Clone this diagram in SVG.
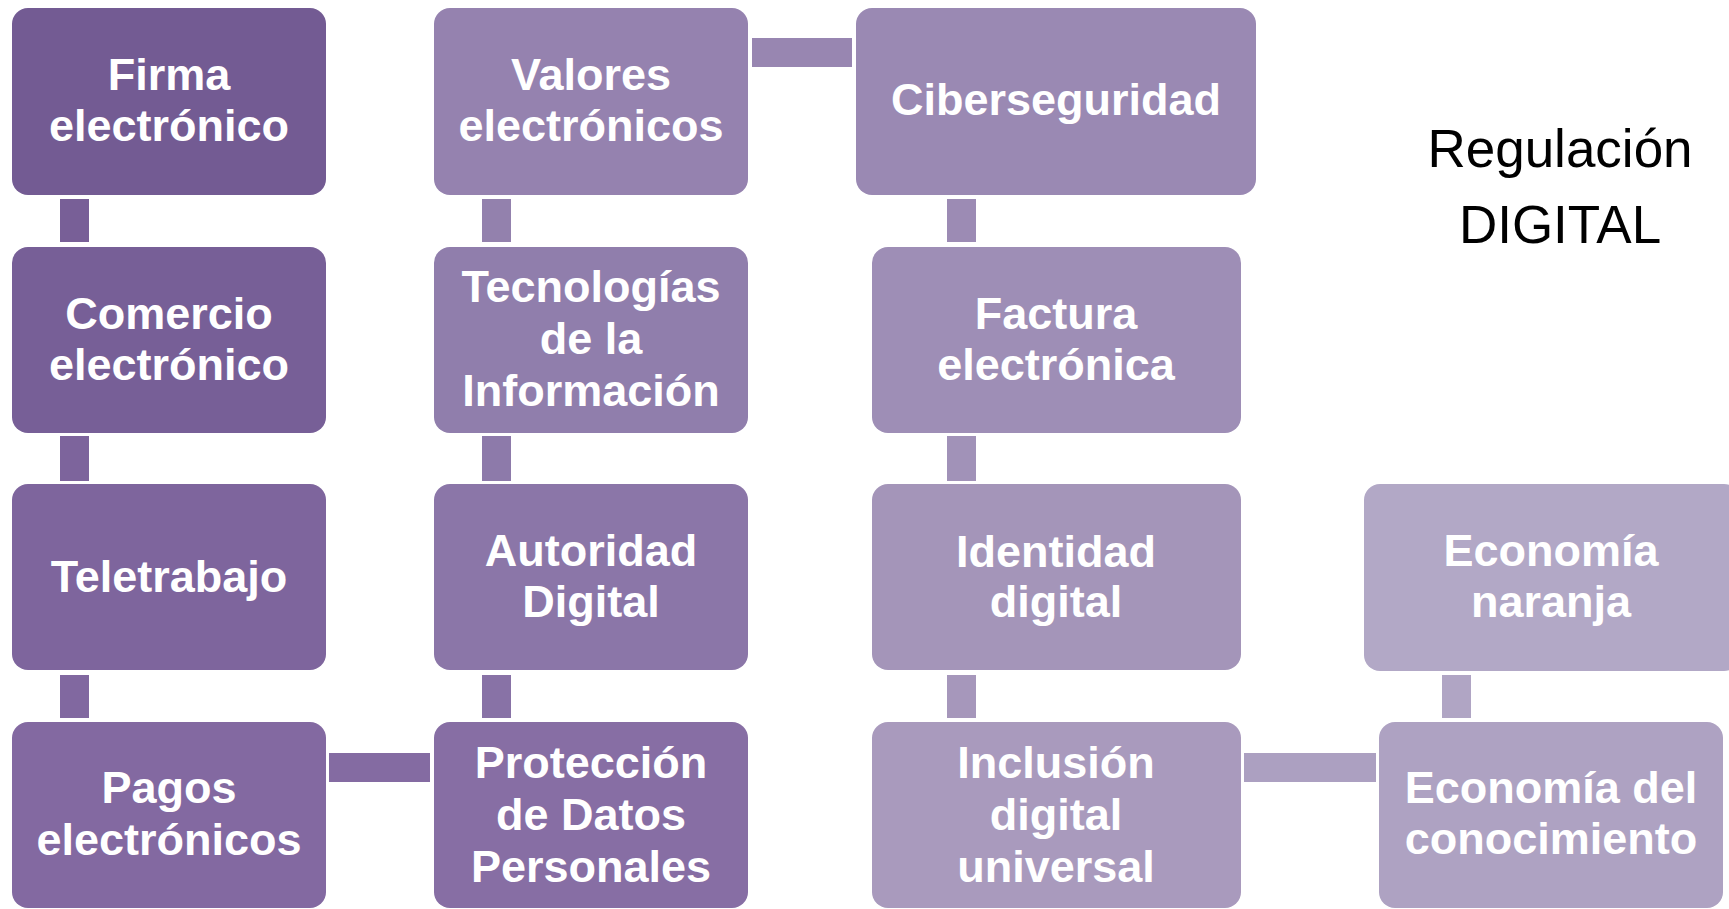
<svg xmlns="http://www.w3.org/2000/svg" width="1729" height="909" viewBox="0 0 1729 909">
<style>
.box{stroke:none}
.lbl{font-family:"Liberation Sans",Arial,sans-serif;font-weight:bold;font-size:45px;fill:#ffffff;text-anchor:middle}
.title{font-family:"Liberation Sans",Arial,sans-serif;font-size:53px;fill:#000000;text-anchor:middle}
</style>
<rect width="1729" height="909" fill="#ffffff"/>
<g id="connectors">
<rect x="60" y="199" width="29" height="43" fill="#785F97"/>
<rect x="60" y="436" width="29" height="45" fill="#7D649C"/>
<rect x="60" y="675" width="29" height="43" fill="#8168A0"/>
<rect x="329" y="753" width="101" height="29" fill="#846BA2"/>
<rect x="482" y="199" width="29" height="43" fill="#9381AD"/>
<rect x="482" y="436" width="29" height="45" fill="#8D7AAA"/>
<rect x="482" y="675" width="29" height="43" fill="#8872A6"/>
<rect x="752" y="38" width="100" height="29" fill="#9886B1"/>
<rect x="947" y="199" width="29" height="43" fill="#9C8BB4"/>
<rect x="947" y="436" width="29" height="45" fill="#A192B8"/>
<rect x="947" y="675" width="29" height="43" fill="#A697BB"/>
<rect x="1244" y="753" width="132" height="29" fill="#ACA0C1"/>
<rect x="1442" y="675" width="29" height="43" fill="#B0A5C4"/>
</g>
<g id="firma"><rect class="box" x="12" y="8" width="314" height="187" rx="16" fill="#735B93"/><text class="lbl" x="169" y="90">Firma</text><text class="lbl" x="169" y="141">electrónico</text></g>
<g id="comercio"><rect class="box" x="12" y="247" width="314" height="186" rx="16" fill="#775F97"/><text class="lbl" x="169" y="329">Comercio</text><text class="lbl" x="169" y="380">electrónico</text></g>
<g id="teletrabajo"><rect class="box" x="12" y="484" width="314" height="186" rx="16" fill="#7E659D"/><text class="lbl" x="169" y="592">Teletrabajo</text></g>
<g id="pagos"><rect class="box" x="12" y="722" width="314" height="186" rx="16" fill="#8369A1"/><text class="lbl" x="169" y="803">Pagos</text><text class="lbl" x="169" y="855">electrónicos</text></g>
<g id="valores"><rect class="box" x="434" y="8" width="314" height="187" rx="16" fill="#9582AF"/><text class="lbl" x="591" y="90">Valores</text><text class="lbl" x="591" y="141">electrónicos</text></g>
<g id="tecnologias"><rect class="box" x="434" y="247" width="314" height="186" rx="16" fill="#907EAC"/><text class="lbl" x="591" y="302">Tecnologías</text><text class="lbl" x="591" y="354">de la</text><text class="lbl" x="591" y="406">Información</text></g>
<g id="autoridad"><rect class="box" x="434" y="484" width="314" height="186" rx="16" fill="#8B76A8"/><text class="lbl" x="591" y="566">Autoridad</text><text class="lbl" x="591" y="617">Digital</text></g>
<g id="proteccion"><rect class="box" x="434" y="722" width="314" height="186" rx="16" fill="#876EA4"/><text class="lbl" x="591" y="778">Protección</text><text class="lbl" x="591" y="830">de Datos</text><text class="lbl" x="591" y="882">Personales</text></g>
<g id="ciberseguridad"><rect class="box" x="856" y="8" width="400" height="187" rx="16" fill="#9A89B3"/><text class="lbl" x="1056" y="115">Ciberseguridad</text></g>
<g id="factura"><rect class="box" x="872" y="247" width="369" height="186" rx="16" fill="#9E8EB6"/><text class="lbl" x="1056" y="329">Factura</text><text class="lbl" x="1056" y="380">electrónica</text></g>
<g id="identidad"><rect class="box" x="872" y="484" width="369" height="186" rx="16" fill="#A495B9"/><text class="lbl" x="1056" y="567">Identidad</text><text class="lbl" x="1056" y="617">digital</text></g>
<g id="inclusion"><rect class="box" x="872" y="722" width="369" height="186" rx="16" fill="#A99ABD"/><text class="lbl" x="1056" y="778">Inclusión</text><text class="lbl" x="1056" y="830">digital</text><text class="lbl" x="1056" y="882">universal</text></g>
<g id="economia-naranja"><rect class="box" x="1364" y="484" width="376" height="187" rx="16" fill="#B2A8C6"/><text class="lbl" x="1551" y="566">Economía</text><text class="lbl" x="1551" y="617">naranja</text></g>
<g id="economia-conocimiento"><rect class="box" x="1379" y="722" width="344" height="186" rx="16" fill="#AEA2C2"/><text class="lbl" x="1551" y="803">Economía del</text><text class="lbl" x="1551" y="854">conocimiento</text></g>
<g id="titulo"><text class="title" x="1560" y="167">Regulación</text><text class="title" x="1560" y="243">DIGITAL</text></g>
</svg>
